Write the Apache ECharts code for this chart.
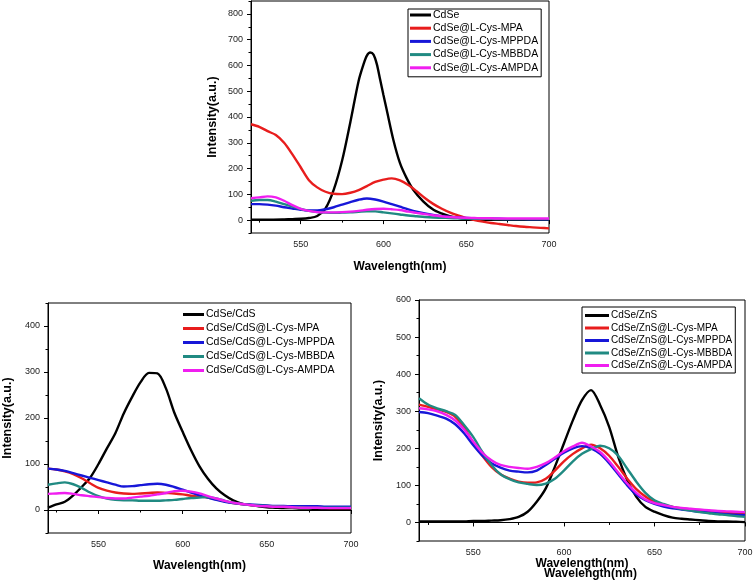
<!DOCTYPE html>
<html>
<head>
<meta charset="utf-8">
<script src="https://cdn.jsdelivr.net/npm/echarts@6/dist/echarts.min.js"></script>
<style>html,body{margin:0;padding:0;background:#fff;}#c{width:753px;height:584px;}</style>
</head>
<body>
<div id="c"></div>
<script>
// ---------- DATA ----------
const wl = [520,525,530,535,540,545,550,555,560,565,570,575,580,585,590,595,600,605,610,615,620,625,630,635,640,645,650,655,660,665,670,675,680,685,690,695,700];

// Panel A (top): CdSe
const aNames = ['CdSe','CdSe@L-Cys-MPA','CdSe@L-Cys-MPPDA','CdSe@L-Cys-MBBDA','CdSe@L-Cys-AMPDA'];
const aBlackWl = [520,530,540,545,550,555,560,565,570,575,580,585,588,590,592,594,596,598,600,602,606,610,614,618,624,630,635,640,645,650,660,670,680,690,700];
const aBlack = [2,2,3,4,5,8,16,45,118,230,380,540,605,638,650,642,605,545,485,427,311,221,163,118,73,41,26,15,9,5,3,2,2,1,1];
const aRed = [372,362,345,330,300,255,205,155,127,110,102,101,106,116,132,148,157,162,154,136,112,86,63,45,30,18,8,0,-6,-11,-15,-19,-23,-26,-28,-30,-32];
const aBlue = [62,62,60,56,50,45,40,37,37,42,50,60,70,79,84,80,72,62,52,42,33,26,20,15,12,10,8,7,6,5,5,4,4,4,3,3,3];
const aTeal = [75,78,78,72,62,52,43,36,31,29,28,29,30,32,34,34,30,26,22,18,15,12,10,9,8,7,6,5,5,5,4,4,4,4,4,4,4];
const aMag = [85,88,92,88,75,58,44,36,31,30,30,31,33,36,40,43,44,42,39,33,28,23,19,15,12,10,9,8,7,7,6,6,6,6,6,6,6];

// Panel B (bottom left): CdSe/CdS
const bNames = ['CdSe/CdS','CdSe/CdS@L-Cys-MPA','CdSe/CdS@L-Cys-MPPDA','CdSe/CdS@L-Cys-MBBDA','CdSe/CdS@L-Cys-AMPDA'];
const bBlack = [5,12,18,32,50,70,100,134,167,210,246,278,298,297,265,212,170,130,95,68,47,32,21,14,11,8,6,5,4,4,3,3,2,2,2,1,1];
const bRed = [90,88,84,78,69,58,48,42,38,36,35,36,37,38,37,36,34,31,29,27,23,19,15,13,11,10,9,8,7,6,6,5,5,5,4,4,4];
const bBlue = [90,88,85,80,75,70,65,60,55,51,52,54,56,57,55,50,44,38,32,27,22,18,15,13,12,11,10,9,9,8,8,8,8,7,7,7,7];
const bTeal = [55,58,60,56,48,38,30,25,22,21,21,20,20,20,21,22,24,26,27,28,25,20,16,13,11,10,9,8,7,6,6,5,5,5,5,5,5];
const bMag = [35,36,37,35,32,30,28,26,25,25,27,29,31,34,37,41,42,40,36,30,25,20,16,13,11,9,8,7,7,6,5,5,5,4,4,4,4];

// Panel C (bottom right): CdSe/ZnS
const cNames = ['CdSe/ZnS','CdSe/ZnS@L-Cys-MPA','CdSe/ZnS@L-Cys-MPPDA','CdSe/ZnS@L-Cys-MBBDA','CdSe/ZnS@L-Cys-AMPDA'];
const cBlack = [3,3,3,3,3,3,4,4,5,6,9,15,29,56,92,150,213,276,330,357,317,258,177,114,69,42,29,20,13,10,8,6,4,3,3,2,1];
const cRed = [318,312,305,298,285,255,215,180,150,130,118,110,107,108,118,140,165,185,200,210,200,180,150,118,90,70,55,47,42,38,35,32,30,28,26,24,22];
const cBlue = [298,295,288,280,265,240,208,180,160,148,140,137,135,140,155,172,188,200,206,200,185,160,130,100,75,60,50,43,38,35,32,29,27,25,22,21,20];
const cTeal = [335,318,308,300,290,262,230,190,155,130,117,108,104,101,105,118,140,165,185,198,207,200,180,145,110,80,60,50,42,36,32,28,25,22,20,17,15];
const cMag = [308,305,300,290,275,250,218,188,168,155,150,147,145,150,160,175,192,205,215,205,190,165,135,105,80,62,52,47,42,39,37,35,33,31,30,29,28];

const xMajor = [550,600,650,700];
const xMinor = [525,575,625,675];
const aYMajor = [0,100,200,300,400,500,600,700,800];
const aYMinor = [-50,50,150,250,350,450,550,650,750,850];
const bYMajor = [0,100,200,300,400];
const bYMinor = [-50,50,150,250,350,450];
const cYMajor = [0,100,200,300,400,500,600];
const cYMinor = [-50,50,150,250,350,450,550];
// ---------- END DATA ----------

const colors = ['#000000','#e81d1d','#1717d8','#208a82','#f01ef0'];
const FONT = 'Liberation Sans, Arial, sans-serif';

const grids = [
  {left:251, top:1, width:298, height:232},
  {left:48, top:303, width:303, height:230},
  {left:419, top:300, width:326, height:241}
];
const yRanges = [[-50,850],[-50,450],[-50,600]];
const yMajors = [aYMajor,bYMajor,cYMajor];
const yMinors = [aYMinor,bYMinor,cYMinor];
const xNameGaps = [28, 27, 17];
const yNameGaps = [32, 34, 34];

const xAxis = [], yAxis = [];
grids.forEach((g,i)=>{
  xAxis.push({
    type:'value', gridIndex:i, min:520, max:700, position:'bottom',
    name:'Wavelength(nm)', nameLocation:'middle', nameGap:xNameGaps[i],
    nameTextStyle:{fontFamily:FONT, fontWeight:'bold', fontSize:12, color:'#000'},
    axisLine:{show:true, lineStyle:{color:'#000', width:1}},
    axisTick:{show:true, inside:false, length:4, customValues:xMajor, lineStyle:{color:'#000'}},
    axisLabel:{show:true, customValues:xMajor, margin:7, fontFamily:FONT, fontSize:9, color:'#222'},
    splitLine:{show:false}
  });
  xAxis.push({
    type:'value', gridIndex:i, min:520, max:700, position:'bottom',
    axisLine:{show:false},
    axisTick:{show:true, inside:false, length:2.5, customValues:xMinor, lineStyle:{color:'#000'}},
    axisLabel:{show:false}, splitLine:{show:false}
  });
  yAxis.push({
    type:'value', gridIndex:i, min:yRanges[i][0], max:yRanges[i][1], position:'left',
    name:'Intensity(a.u.)', nameLocation:'middle', nameGap:yNameGaps[i], nameRotate:90,
    nameTextStyle:{fontFamily:FONT, fontWeight:'bold', fontSize:12.5, color:'#000'},
    axisLine:{show:true, lineStyle:{color:'#000', width:1}},
    axisTick:{show:true, inside:false, length:4, customValues:yMajors[i], lineStyle:{color:'#000'}},
    axisLabel:{show:true, customValues:yMajors[i], margin:8, fontFamily:FONT, fontSize:9, color:'#222'},
    splitLine:{show:false}
  });
  yAxis.push({
    type:'value', gridIndex:i, min:yRanges[i][0], max:yRanges[i][1], position:'left',
    axisLine:{show:false},
    axisTick:{show:true, inside:false, length:2.5, customValues:yMinors[i], lineStyle:{color:'#000'}},
    axisLabel:{show:false}, splitLine:{show:false}
  });
});

function pairs(xs, ys){ return xs.map((x,k)=>[x, ys[k]]); }

const panels = [
  {names:aNames, data:[pairs(aBlackWl,aBlack), pairs(wl,aRed), pairs(wl,aBlue), pairs(wl,aTeal), pairs(wl,aMag)]},
  {names:bNames, data:[pairs(wl,bBlack), pairs(wl,bRed), pairs(wl,bBlue), pairs(wl,bTeal), pairs(wl,bMag)]},
  {names:cNames, data:[pairs(wl,cBlack), pairs(wl,cRed), pairs(wl,cBlue), pairs(wl,cTeal), pairs(wl,cMag)]}
];

const series = [];
panels.forEach((p,i)=>{
  p.names.forEach((n,k)=>{
    series.push({
      type:'line', name:n, xAxisIndex:2*i, yAxisIndex:2*i,
      data:p.data[k], showSymbol:false, symbol:'none', smooth:0.3,
      lineStyle:{color:colors[k], width:2.4}, itemStyle:{color:colors[k]},
      clip:true, animation:false
    });
  });
});

const legendBase = {
  orient:'vertical', icon:'rect', itemWidth:21, itemHeight:3,
  textStyle:{fontFamily:FONT, fontSize:10.5, color:'#000', lineHeight:11, padding:[0,0,0,-3]},
  backgroundColor:'#fff'
};
const legend = [
  Object.assign({}, legendBase, {data:aNames, left:408, top:9, itemGap:2.2, borderColor:'#000', borderWidth:1, padding:[0.5,3,3.5,2]}),
  Object.assign({}, legendBase, {data:bNames, left:183, top:309, itemGap:3, borderWidth:0, padding:0, backgroundColor:'transparent'}),
  Object.assign({}, legendBase, {data:cNames, left:582, top:307, itemGap:1.5, borderColor:'#000', borderWidth:1, padding:[3,3,2,3], itemWidth:24,
    textStyle:{fontFamily:FONT, fontSize:10, color:'#000', lineHeight:11, padding:[0,0,0,-3]}})
];

const chart = echarts.init(document.getElementById('c'), null, {renderer:'canvas'});
chart.setOption({
  backgroundColor:'#fff',
  animation:false,
  grid: grids.map(g=>Object.assign({show:true, borderColor:'#000', borderWidth:1, backgroundColor:'transparent', containLabel:false, outerBoundsMode:'none'}, g)),
  xAxis, yAxis, legend, series,
  graphic:[{
    type:'text', left:590-46, top:575-7,
    style:{text:'Wavelength(nm)', fontFamily:FONT, fontWeight:'bold', fontSize:12, fill:'#000'}
  }]
});
</script>
</body>
</html>
